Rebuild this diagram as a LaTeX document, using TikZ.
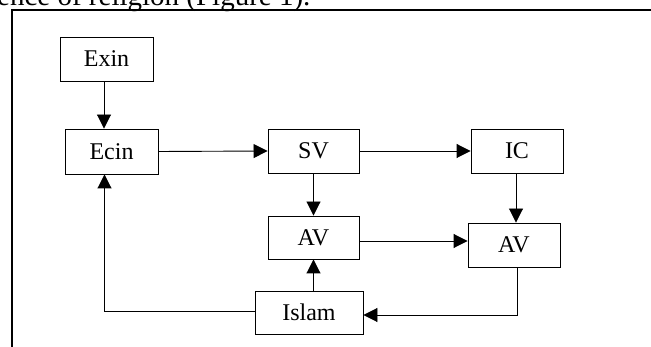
\documentclass[tikz,border=0pt]{standalone}
\usepackage{fontspec}
\setmainfont{Liberation Serif}
\usetikzlibrary{arrows.meta}
\begin{document}
\begin{tikzpicture}[x=1pt,y=-1pt,
  box/.style={draw,line width=0.9pt,inner sep=0pt,font=\fontsize{24}{28}\selectfont},
  arr/.style={line width=0.9pt,-{Triangle[length=14pt,width=14pt]}},
  conn/.style={line width=0.9pt}]
\useasboundingbox (0,0) rectangle (651,347);
\clip (0,0) rectangle (651,347);
\node[anchor=base west,inner sep=0pt,font=\fontsize{29}{34}\selectfont] (cap) at (-3,6) {ence of religion (Figure 1).};
\draw[line width=2.2pt] (12,400) -- (12,10) -- (700,10);
\node[box,minimum width=93pt,minimum height=44pt] (exin) at (106.5,59) {Exin};
\node[box,minimum width=93pt,minimum height=45pt] (ecin) at (111.5,151.5) {Ecin};
\node[box,minimum width=91pt,minimum height=44pt] (sv) at (313.5,151) {SV};
\node[box,minimum width=92pt,minimum height=44pt] (ic) at (517,151) {IC};
\node[box,minimum width=91pt,minimum height=43pt] (av1) at (313.5,237.5) {AV};
\node[box,minimum width=92pt,minimum height=44pt] (av2) at (514,245) {AV};
\node[box,minimum width=108pt,minimum height=43pt] (islam) at (309,312.5) {Islam};
\draw[arr] ([xshift=-2.5pt]exin.south) -- ([xshift=-2.5pt]exin.south |- ecin.north);
\draw[arr] (ecin.east) -- (sv.west);
\draw[arr] (sv.east) -- (ic.west);
\draw[arr] (sv.south) -- (av1.north);
\draw[arr] ([xshift=-1pt]ic.south) -- ([xshift=-1pt]ic.south |- av2.north);
\draw[arr] ([yshift=-3.5pt]av1.east) coordinate (p) -- (p -| av2.west);
\draw[arr] (av1.south |- islam.north) -- (av1.south);
\draw[arr] ([xshift=3pt]av2.south) |- ([yshift=-2.5pt]islam.east);
\draw[arr] ([yshift=1.5pt]islam.west) -| ([xshift=-7pt]ecin.south);
\end{tikzpicture}
\end{document}
